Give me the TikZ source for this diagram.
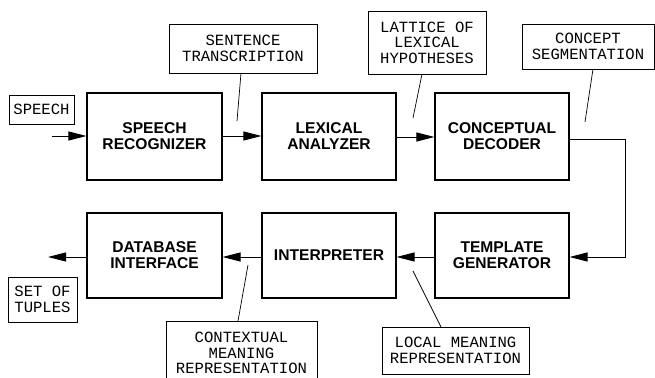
\documentclass[tikz,border=0pt]{standalone}
\usepackage{fontspec}
\newfontfamily\lblfont{Liberation Mono}
\newfontfamily\blkfont{Liberation Sans}
\usetikzlibrary{arrows.meta}
\begin{document}
\begin{tikzpicture}[x=1pt,y=-1pt,
  block/.style={draw, line width=1.1pt, inner sep=0pt, align=center,
    font=\blkfont\bfseries\fontsize{15.6}{16}\selectfont},
  lbl/.style={draw, line width=0.9pt, inner sep=0pt, align=center,
    font=\lblfont\fontsize{15.6}{15.6}\selectfont},
  flow/.style={line width=0.9pt, -{Triangle[length=18pt,width=9pt]}},
  lead/.style={line width=0.7pt}]
\clip (0,0) rectangle (655,377);
\fill[white] (0,0) rectangle (655,377);
% blocks
\node[block, minimum width=135pt, minimum height=87pt] (sr) at (154.5,136.5) {SPEECH\\RECOGNIZER};
\node[block, minimum width=134pt, minimum height=87pt] (la) at (329,136.5) {LEXICAL\\ANALYZER};
\node[block, minimum width=134pt, minimum height=87pt] (cd) at (502,136.5) {CONCEPTUAL\\DECODER};
\node[block, minimum width=134pt, minimum height=85pt] (tg) at (502,255.5) {TEMPLATE\\GENERATOR};
\node[block, minimum width=134pt, minimum height=85pt] (in) at (329,255.5) {INTERPRETER};
\node[block, minimum width=135pt, minimum height=85pt] (db) at (154.5,255.5) {DATABASE\\INTERFACE};
% labels
\node[lbl, minimum width=65pt, minimum height=29pt] (sp) at (41.5,109.5) {SPEECH};
\node[lbl, minimum width=148pt, minimum height=49pt] (st) at (243,48.5) {SENTENCE\\TRANSCRIPTION};
\node[lbl, minimum width=118pt, minimum height=63pt] (lat) at (427,42.5) {LATTICE OF\\LEXICAL\\HYPOTHESES};
\node[lbl, minimum width=132pt, minimum height=45pt] (cs) at (588,46.5) {CONCEPT\\SEGMENTATION};
\node[lbl, minimum width=69pt, minimum height=45pt] (tu) at (42.5,299.5) {SET OF\\TUPLES};
\node[lbl, minimum width=151pt, minimum height=64pt] (cm) at (241.5,353) {CONTEXTUAL\\MEANING\\REPRESENTATION};
\node[lbl, minimum width=147pt, minimum height=47pt] (lm) at (455.5,350.5) {LOCAL MEANING\\REPRESENTATION};
% coordinates
\coordinate (in0) at (52,136);
\coordinate (out0) at (48,257);
\coordinate (c1) at (625,139);
\coordinate (c2) at (625,257);
\coordinate (p1) at (237,121);
\coordinate (p2) at (413,118);
\coordinate (p3) at (585,122);
\coordinate (p4) at (413,271);
\coordinate (p5) at (248,265);
% flow
\draw[flow] (in0) -- (in0 -| sr.west);
\draw[flow] (sr.east |- in0) -- (la.west |- in0);
\draw[flow] (la.east |- 0,137) -- (cd.west |- 0,137);
\draw[flow] (cd.east |- c1) -- (c1) -- (c2) -- (tg.east |- c2);
\draw[flow] (tg.west |- c2) -- (in.east |- c2);
\draw[flow] (in.west |- c2) -- (db.east |- c2);
\draw[flow] (db.west |- c2) -- (out0);
% leaders
\draw[lead] (241,73) -- (p1);
\draw[lead] (422,74) -- (p2);
\draw[lead] (593,69) -- (p3);
\draw[lead] (441,327) -- (p4);
\draw[lead] (238,321) -- (p5);
\end{tikzpicture}
\end{document}
